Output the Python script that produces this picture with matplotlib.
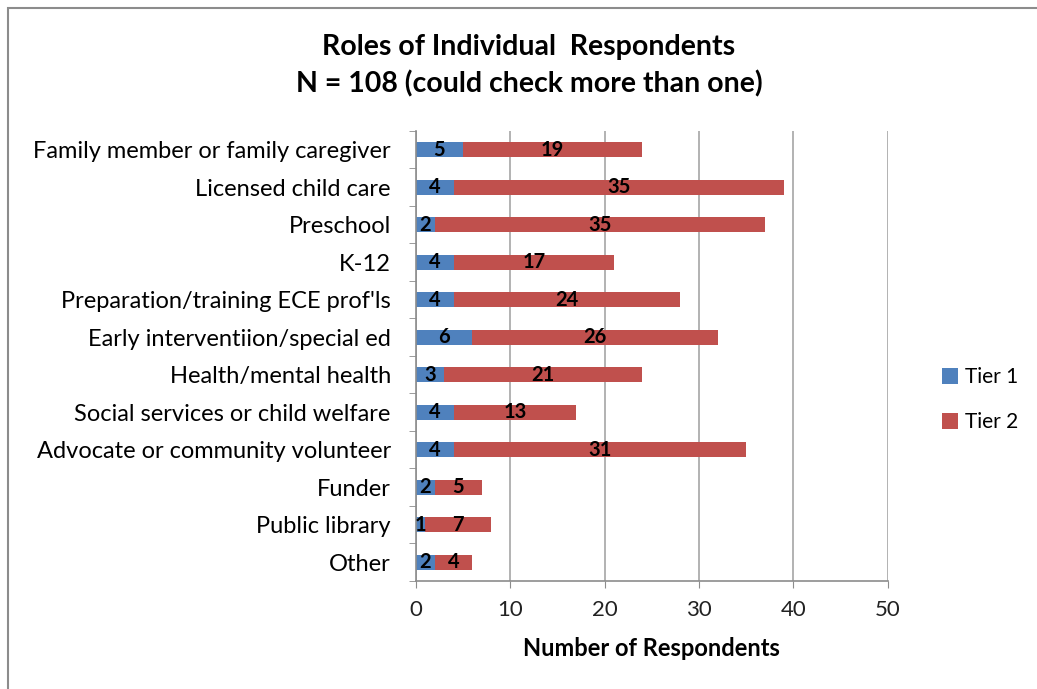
import matplotlib.pyplot as plt
import numpy as np
from matplotlib.patches import Rectangle

categories = ["Family member or family caregiver", "Licensed child care", "Preschool", "K-12",
              "Preparation/training ECE prof'ls", "Early interventiion/special ed",
              "Health/mental health", "Social services or child welfare",
              "Advocate or community volunteer", "Funder", "Public library", "Other"]
tier1 = [5, 4, 2, 4, 4, 6, 3, 4, 4, 2, 1, 2]
tier2 = [19, 35, 35, 17, 24, 26, 21, 13, 31, 5, 7, 4]

plt.rcParams['font.family'] = ['Lato', 'DejaVu Sans']

fig = plt.figure(figsize=(10.37, 6.89), dpi=100)
ax = fig.add_axes([0.401, 0.157, 0.455, 0.653])

# figure border
fig.patches.append(Rectangle((8 / 1037, -0.05), 1.2, 1 - 8 / 689 + 0.05, transform=fig.transFigure,
                             fill=False, edgecolor='#8c8c8c', linewidth=1.5))

y = np.arange(len(categories))
h = 0.4
b1 = ax.barh(y, tier1, height=h, color='#4F81BD', label='Tier 1')
b2 = ax.barh(y, tier2, left=tier1, height=h, color='#C0504D', label='Tier 2')
ax.bar_label(b1, labels=[str(v) for v in tier1], label_type='center', fontsize=14.5, fontweight='bold')
ax.bar_label(b2, labels=[str(v) for v in tier2], label_type='center', fontsize=14.5, fontweight='bold')

ax.set_ylim(len(categories) - 0.5, -0.5)
ax.set_xlim(0, 50)
ax.set_xticks(range(0, 51, 10))
ax.set_yticks(y)
ax.set_yticklabels(categories, fontsize=17)
ax.set_yticks(np.arange(-0.5, len(categories), 1), minor=True)
ax.tick_params(axis='y', which='major', length=0, pad=18)
ax.tick_params(axis='y', which='minor', length=5, color='#8c8c8c', direction='out')
ax.tick_params(axis='x', length=5, color='#8c8c8c', labelsize=16, pad=9)
for lbl in ax.get_xticklabels():
    lbl.set_color('#222222')

ax.grid(axis='x', color='#a6a6a6', linewidth=1.2)
ax.set_axisbelow(True)
for s in ['top', 'right']:
    ax.spines[s].set_visible(False)
for s in ['left', 'bottom']:
    ax.spines[s].set_color('#8c8c8c')
    ax.spines[s].set_linewidth(1.2)

ax.set_xlabel("Number of Respondents", fontsize=17, fontweight='bold', labelpad=12)

fig.text(0.51, 0.932, "Roles of Individual  Respondents", ha='center', va='center',
         fontsize=20.5, fontweight='bold')
fig.text(0.51, 0.878, "N = 108 (could check more than one)", ha='center', va='center',
         fontsize=20.5, fontweight='bold')

fig.legend(handles=[b1, b2], loc='center left', bbox_to_anchor=(0.89, 0.42), frameon=False,
           fontsize=15, handlelength=0.8, handleheight=0.8, handletextpad=0.3, labelspacing=1.2)

fig.savefig('out.png', dpi=100)
